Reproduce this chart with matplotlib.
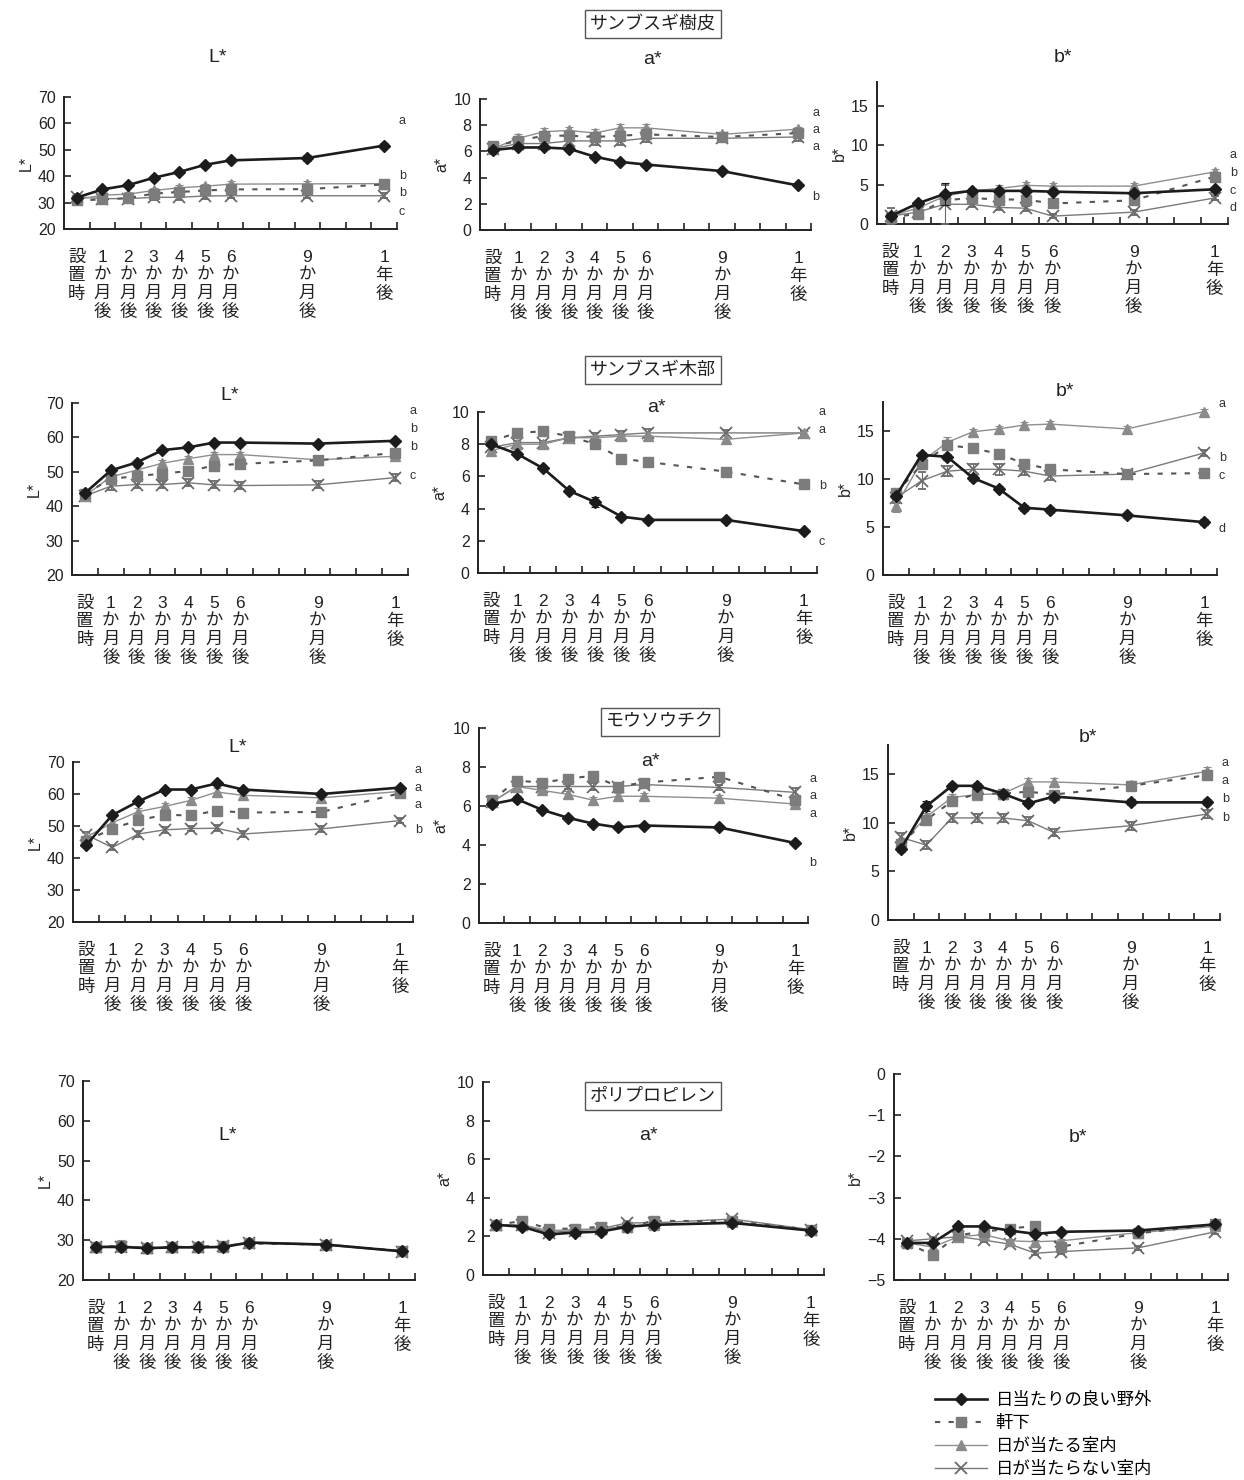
import matplotlib
matplotlib.use("Agg")
import matplotlib.pyplot as plt
from matplotlib.lines import Line2D
from matplotlib.ticker import FixedLocator

plt.rcParams['font.family'] = ['Liberation Sans', 'Noto Sans CJK JP', 'DejaVu Sans']
plt.rcParams['axes.unicode_minus'] = True

W, H = 1244, 1480

# ---------------- data ----------------
months = [0, 1, 2, 3, 4, 5, 6, 9, 12]
tick_labels = ["設\n置\n時", "1\nか\n月\n後", "2\nか\n月\n後", "3\nか\n月\n後",
               "4\nか\n月\n後", "5\nか\n月\n後", "6\nか\n月\n後", "9\nか\n月\n後", "1\n年\n後"]
series_names = ["日当たりの良い野外", "軒下", "日が当たる室内", "日が当たらない室内"]
material_titles = ["サンブスギ樹皮", "サンブスギ木部", "モウソウチク", "ポリプロピレン"]

# order of series in each panel: 野外, 軒下, 日が当たる室内, 日が当たらない室内
bark_L = [[31.9, 35.0, 36.6, 39.4, 41.6, 44.3, 46.0, 46.9, 51.6],
          [30.8, 31.2, 31.7, 33.4, 34.0, 34.6, 35.0, 35.1, 36.9],
          [31.2, 32.8, 33.2, 34.6, 35.6, 36.2, 37.0, 37.1, 37.2],
          [32.2, 31.5, 31.5, 32.0, 32.0, 32.5, 32.6, 32.6, 32.6]]
bark_a = [[6.1, 6.3, 6.3, 6.2, 5.6, 5.2, 5.0, 4.5, 3.4],
          [6.4, 6.8, 7.2, 7.2, 7.1, 7.2, 7.3, 7.1, 7.4],
          [6.2, 7.0, 7.5, 7.6, 7.4, 7.8, 7.8, 7.3, 7.7],
          [6.2, 6.6, 6.6, 6.8, 6.8, 6.8, 7.0, 7.0, 7.1]]
bark_b = [[1.0, 2.6, 3.8, 4.2, 4.2, 4.2, 4.1, 3.9, 4.4],
          [0.8, 1.3, 3.0, 3.3, 3.1, 3.1, 2.6, 3.0, 6.0],
          [1.0, 2.0, 3.5, 4.2, 4.5, 4.9, 4.8, 4.8, 6.6],
          [1.0, 1.5, 2.5, 2.5, 2.1, 2.0, 1.0, 1.5, 3.3]]
wood_L = [[43.8, 50.4, 52.7, 56.3, 57.1, 58.5, 58.5, 58.2, 59.0],
          [43.5, 48.0, 48.7, 49.5, 50.2, 51.8, 52.3, 53.3, 55.5],
          [43.0, 48.5, 50.5, 52.5, 53.8, 55.0, 55.0, 53.5, 54.5],
          [43.0, 45.8, 46.3, 46.3, 46.8, 46.2, 46.0, 46.2, 48.3]]
wood_a = [[8.0, 7.4, 6.5, 5.1, 4.4, 3.5, 3.3, 3.3, 2.6],
          [8.2, 8.7, 8.8, 8.5, 8.0, 7.1, 6.9, 6.3, 5.5],
          [7.6, 8.0, 8.0, 8.4, 8.4, 8.5, 8.5, 8.3, 8.7],
          [7.8, 8.1, 8.1, 8.4, 8.5, 8.6, 8.7, 8.7, 8.7]]
wood_b = [[8.2, 12.5, 12.3, 10.1, 9.0, 7.0, 6.8, 6.2, 5.5],
          [8.5, 11.5, 13.5, 13.2, 12.6, 11.6, 11.0, 10.5, 10.6],
          [7.2, 11.8, 13.8, 14.9, 15.2, 15.6, 15.7, 15.2, 17.0],
          [8.0, 9.8, 10.8, 11.0, 11.0, 10.8, 10.3, 10.5, 12.7]]
bamboo_L = [[44.0, 53.4, 57.7, 61.4, 61.4, 63.3, 61.4, 60.0, 62.0],
            [45.3, 49.2, 51.8, 53.5, 53.3, 54.8, 54.2, 54.4, 60.2],
            [46.5, 51.0, 54.5, 56.1, 58.0, 60.6, 59.6, 58.8, 60.8],
            [47.3, 43.3, 47.5, 48.8, 49.2, 49.3, 47.5, 49.1, 51.7]]
bamboo_a = [[6.1, 6.35, 5.8, 5.4, 5.1, 4.9, 5.0, 4.9, 4.1],
            [6.3, 7.3, 7.2, 7.4, 7.55, 7.0, 7.2, 7.5, 6.3],
            [6.2, 7.0, 6.8, 6.6, 6.3, 6.5, 6.5, 6.4, 6.1],
            [6.2, 7.0, 7.0, 7.0, 7.0, 7.0, 7.1, 6.95, 6.7]]
bamboo_b = [[7.3, 11.7, 13.8, 13.8, 13.0, 12.0, 12.7, 12.1, 12.1],
            [7.8, 10.3, 12.2, 13.0, 13.0, 13.2, 12.9, 13.8, 14.9],
            [7.8, 10.6, 12.6, 12.9, 13.0, 14.2, 14.2, 13.9, 15.3],
            [8.5, 7.7, 10.5, 10.5, 10.5, 10.2, 9.0, 9.7, 10.9]]
pp_L = [[28.3, 28.3, 28.0, 28.2, 28.2, 28.3, 29.4, 28.9, 27.2],
        [28.4, 28.5, 28.0, 28.3, 28.4, 28.6, 29.2, 28.9, 27.3],
        [28.3, 28.6, 28.1, 28.2, 28.3, 28.4, 29.5, 29.0, 27.2],
        [28.4, 28.4, 28.0, 28.2, 28.2, 28.5, 29.3, 28.8, 27.1]]
pp_a = [[2.6, 2.5, 2.1, 2.2, 2.25, 2.5, 2.6, 2.7, 2.3],
        [2.6, 2.8, 2.4, 2.4, 2.5, 2.5, 2.8, 2.8, 2.35],
        [2.6, 2.6, 2.3, 2.35, 2.4, 2.5, 2.6, 2.75, 2.35],
        [2.6, 2.6, 2.2, 2.3, 2.4, 2.7, 2.7, 2.9, 2.35]]
pp_b = [[-4.1, -4.1, -3.7, -3.7, -3.8, -3.88, -3.83, -3.8, -3.65],
        [-4.1, -4.39, -3.91, -3.83, -3.75, -3.69, -4.19, -3.87, -3.65],
        [-4.1, -4.2, -3.95, -3.9, -4.05, -4.07, -4.05, -3.85, -3.7],
        [-4.05, -4.0, -3.95, -4.03, -4.13, -4.35, -4.31, -4.22, -3.83]]

# error bars (small where barely visible)
bark_L_err = [[0.6, 0.6, 0.6, 0.6, 0.8, 0.8, 0.8, 1.0, 1.0], [0.5]*9, [1.0]*9, [1.0]*9]
bark_a_err = [[0.15]*9, [0.2]*9, [0.35, 0.3, 0.3, 0.3, 0.3, 0.3, 0.3, 0.2, 0.2], [0.3]*9]
bark_b_err = [[0.4, 0.3, 1.4, 0.3, 0.3, 0.3, 0.3, 0.3, 0.3], [0.4]*9, [0.4]*9,
              [1.0, 0.3, 2.5, 0.3, 0.3, 0.3, 0.3, 0.3, 0.3]]
wood_L_err = [[0.5]*9, [0.8]*9, [0.8]*9, [1.0]*9]
wood_a_err = [[0.1, 0.1, 0.1, 0.15, 0.3, 0.15, 0.1, 0.1, 0.1], [0.1]*9, [0.3, 0.2, 0.2, 0.1, 0.1, 0.1, 0.1, 0.2, 0.1], [0.15, 0.1, 0.1, 0.1, 0.2, 0.2, 0.25, 0.2, 0.1]]
wood_b_err = [[0.3]*9, [0.3]*9, [0.6, 0.4, 0.6, 0.3, 0.3, 0.3, 0.3, 0.3, 0.3], [0.5, 0.9, 0.5, 0.6, 0.6, 0.4, 0.4, 0.3, 0.3]]
bamboo_L_err = [[0.6]*9, [1.0]*9, [1.2]*9, [0.9]*9]
bamboo_a_err = [[0.1, 0.15, 0.1, 0.1, 0.1, 0.1, 0.1, 0.1, 0.1], [0.15]*9, [0.15]*9, [0.15, 0.15, 0.15, 0.15, 0.2, 0.15, 0.15, 0.15, 0.2]]
bamboo_b_err = [[0.3, 0.5, 0.3, 0.3, 0.3, 0.3, 0.3, 0.3, 0.3], [0.4]*9, [0.4]*9, [0.5, 0.4, 0.4, 0.4, 0.4, 0.4, 0.4, 0.4, 0.4]]
pp_L_err = [[0.5]*9, [0.5]*9, [1.2, 1.5, 0.5, 0.5, 0.5, 0.8, 0.6, 0.5, 0.6], [0.5]*9]
pp_a_err = [[0.1]*9, [0.1]*9, [0.1]*9, [0.1]*9]
pp_b_err = [[0.05]*9, [0.05]*9, [0.08, 0.1, 0.05, 0.05, 0.05, 0.05, 0.05, 0.05, 0.05], [0.05]*9]

# significance letters at the right end: (y, letter)
bark_L_letters = [(61, "a"), (40, "b"), (33.6, "b"), (26.5, "c")]
bark_a_letters = [(8.9, "a"), (7.6, "a"), (6.3, "a"), (2.5, "b")]
bark_b_letters = [(8.7, "a"), (6.5, "b"), (4.2, "c"), (2.0, "d")]
wood_L_letters = [(67.7, "a"), (62.5, "b"), (57.3, "b"), (48.8, "c")]
wood_a_letters = [(10.0, "a"), (8.9, "a"), (5.4, "b"), (1.9, "c")]
wood_b_letters = [(17.8, "a"), (12.2, "b"), (10.3, "c"), (4.8, "d")]
bamboo_L_letters = [(67.6, "a"), (62.0, "a"), (56.5, "a"), (48.6, "b")]
bamboo_a_letters = [(7.4, "a"), (6.5, "a"), (5.6, "a"), (3.1, "b")]
bamboo_b_letters = [(16.1, "a"), (14.3, "a"), (12.4, "b"), (10.5, "b")]

# ---------------- styles ----------------
styles = [
    dict(color="#1c1c1c", lw=1.9, ls="-", marker="D", ms=6, mfc="#1c1c1c", mec="#1c1c1c"),
    dict(color="#555555", lw=1.5, ls=(0, (2.5, 4)), marker="s", ms=7, mfc="#7c7c7c", mec="#7c7c7c"),
    dict(color="#8e8e8e", lw=1.0, ls="-", marker="^", ms=7, mfc="#8a8a8a", mec="#8a8a8a"),
    dict(color="#7a7a7a", lw=1.0, ls="-", marker="x", ms=8, mfc="#6a6a6a", mec="#6a6a6a", mew=1.3),
]
ecolors = ["#1c1c1c", "#7c7c7c", "#8a8a8a", "#6a6a6a"]

fig = plt.figure(figsize=(W / 100, H / 100), dpi=100)


def px_axes(l, r, t, b):
    return fig.add_axes([l / W, 1 - b / H, (r - l) / W, (b - t) / H])


def ftext(x, y, s, **kw):
    fig.text(x / W, 1 - y / H, s, **kw)


panels = [
    ((64, 397, 97, 229), bark_L, bark_L_err, bark_L_letters, (20, 70), [20, 30, 40, 50, 60, 70], "L*", (218, 57)),
    ((480, 811, 99, 230), bark_a, bark_a_err, bark_a_letters, (0, 10), [0, 2, 4, 6, 8, 10], "a*", (652, 60)),
    ((877, 1228, 82, 224), bark_b, bark_b_err, bark_b_letters, (0, 18), [0, 5, 10, 15], "b*", (1063, 57)),
    ((72, 408, 403, 575), wood_L, wood_L_err, wood_L_letters, (20, 70), [20, 30, 40, 50, 60, 70], "L*", (230, 395)),
    ((478, 817, 412, 573), wood_a, wood_a_err, wood_a_letters, (0, 10), [0, 2, 4, 6, 8, 10], "a*", (656, 407)),
    ((883, 1217, 402, 575), wood_b, wood_b_err, wood_b_letters, (0, 18), [0, 5, 10, 15], "b*", (1065, 392)),
    ((73, 413, 762, 922), bamboo_L, bamboo_L_err, bamboo_L_letters, (20, 70), [20, 30, 40, 50, 60, 70], "L*", (238, 748)),
    ((479, 808, 728, 923), bamboo_a, bamboo_a_err, bamboo_a_letters, (0, 10), [0, 2, 4, 6, 8, 10], "a*", (650, 762)),
    ((888, 1220, 745, 920), bamboo_b, bamboo_b_err, bamboo_b_letters, (0, 18), [0, 5, 10, 15], "b*", (1088, 737)),
    ((83, 415, 1081, 1280), pp_L, pp_L_err, [], (20, 70), [20, 30, 40, 50, 60, 70], "L*", (228, 1135)),
    ((483, 824, 1082, 1275), pp_a, pp_a_err, [], (0, 10), [0, 2, 4, 6, 8, 10], "a*", (648, 1135)),
    ((894, 1228, 1074, 1280), pp_b, pp_b_err, [], (-5, 0), [-5, -4, -3, -2, -1, 0], "b*", (1078, 1137)),
]

for bounds, data, errs, letters, ylim, yticks, ylab, tpos in panels:
    ax = px_axes(*bounds)
    for i in [3, 2, 1, 0]:
        st = styles[i]
        ax.errorbar(months, data[i], yerr=errs[i], ecolor=ecolors[i], elinewidth=0.8,
                    capsize=3, capthick=0.8, zorder=3 + (3 - i), **st)
    ax.set_xlim(-0.5, 12.5)
    ax.set_ylim(*ylim)
    ax.set_yticks(yticks)
    ax.set_yticklabels([("−" + str(abs(v))) if v < 0 else str(v) for v in yticks])
    ax.set_xticks(months)
    ax.set_xticklabels(tick_labels, linespacing=1.25, va="top")
    ax.xaxis.set_minor_locator(FixedLocator([k + 0.5 for k in range(13)]))
    ax.tick_params(axis="x", which="major", length=0, pad=15, labelsize=12.5, colors="#222222")
    ax.tick_params(axis="x", which="minor", length=5, direction="in", width=1.2, color="#222222")
    ax.tick_params(axis="y", which="major", length=5, direction="in", width=1.2, labelsize=11.5,
                   pad=6, colors="#222222")
    for sp in ["top", "right"]:
        ax.spines[sp].set_visible(False)
    for sp in ["left", "bottom"]:
        ax.spines[sp].set_linewidth(1.4)
        ax.spines[sp].set_color("#222222")
    ax.set_ylabel(ylab, fontsize=11.5, labelpad=3, color="#222222")
    ax.patch.set_alpha(0)
    for y, s in letters:
        ax.text(1.005, y, s, transform=ax.get_yaxis_transform(), fontsize=9,
                ha="left", va="center", color="#333333")
    ftext(tpos[0], tpos[1], ylab, fontsize=14, ha="center", va="center", color="#222222")

# material titles in boxes
box_pos = [(653, 24), (653, 370), (660, 722), (653, 1096)]
for (x, y), s in zip(box_pos, material_titles):
    ftext(x, y, s, fontsize=13, ha="center", va="center", color="#222222",
          bbox=dict(boxstyle="square,pad=0.3", fc="white", ec="#555555", lw=1.0))

# legend
handles = [Line2D([0], [0], **styles[i]) for i in range(4)]
fig.legend(handles, series_names, loc="upper left",
           bbox_to_anchor=(928 / W, 1 - 1385 / H), frameon=False, fontsize=12.5,
           handlelength=3.0, handletextpad=0.5, labelspacing=0.4, borderaxespad=0)

fig.savefig("out.png", dpi=100, facecolor="white")
